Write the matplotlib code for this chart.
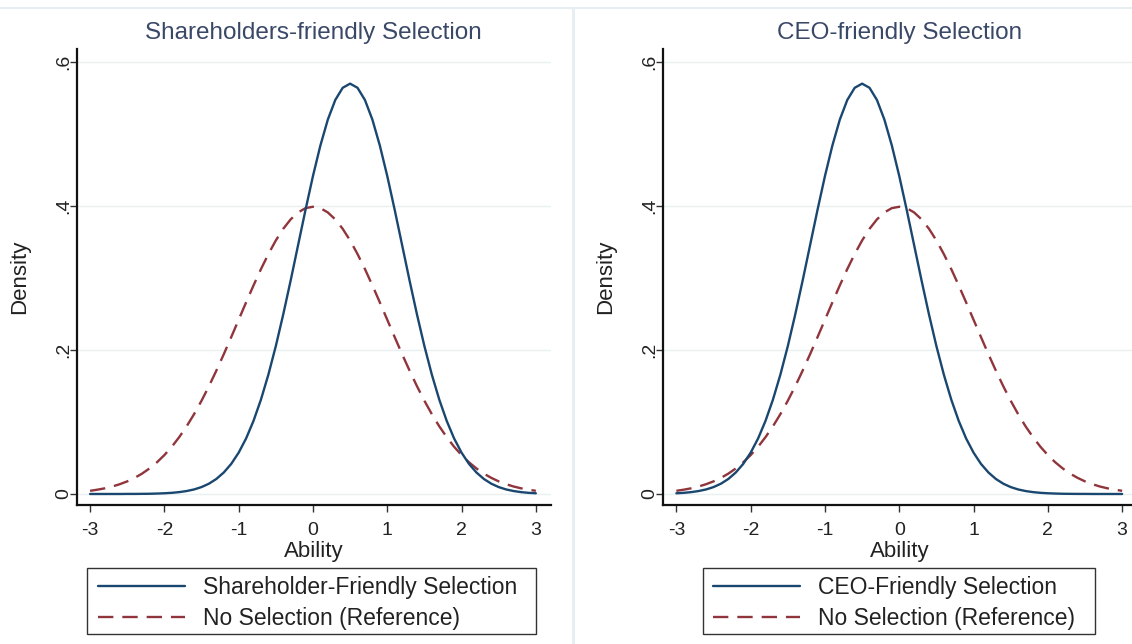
import numpy as np
import matplotlib
matplotlib.use("Agg")
import matplotlib.pyplot as plt
from matplotlib.lines import Line2D
from matplotlib.patches import Rectangle

plt.rcParams['font.family'] = ['Liberation Sans', 'DejaVu Sans']

# ---------------- data ----------------
ability = np.round(np.arange(-3.0, 3.0001, 0.1), 1)

# reference density (no selection)
no_selection = [0.0044, 0.0060, 0.0079, 0.0104, 0.0136, 0.0175, 0.0224, 0.0283, 0.0355, 0.0440,
                0.0540, 0.0656, 0.0790, 0.0940, 0.1109, 0.1295, 0.1497, 0.1714, 0.1942, 0.2179,
                0.2420, 0.2661, 0.2897, 0.3123, 0.3332, 0.3521, 0.3683, 0.3814, 0.3910, 0.3970,
                0.3989,
                0.3970, 0.3910, 0.3814, 0.3683, 0.3521, 0.3332, 0.3123, 0.2897, 0.2661, 0.2420,
                0.2179, 0.1942, 0.1714, 0.1497, 0.1295, 0.1109, 0.0940, 0.0790, 0.0656, 0.0540,
                0.0440, 0.0355, 0.0283, 0.0224, 0.0175, 0.0136, 0.0104, 0.0079, 0.0060, 0.0044]

shareholder_friendly = [0.0000, 0.0000, 0.0000, 0.0000, 0.0000, 0.0001, 0.0001, 0.0002, 0.0003, 0.0006,
                        0.0010, 0.0016, 0.0026, 0.0041, 0.0063, 0.0096, 0.0143, 0.0209, 0.0299, 0.0418,
                        0.0574, 0.0771, 0.1016, 0.1311, 0.1658, 0.2054, 0.2494, 0.2966, 0.3457, 0.3947,
                        0.4416, 0.4840, 0.5199, 0.5471, 0.5641, 0.5699, 0.5641, 0.5471, 0.5199, 0.4840,
                        0.4416, 0.3947, 0.3457, 0.2966, 0.2494, 0.2054, 0.1658, 0.1311, 0.1016, 0.0771,
                        0.0574, 0.0418, 0.0299, 0.0209, 0.0143, 0.0096, 0.0063, 0.0041, 0.0026, 0.0016,
                        0.0010]

ceo_friendly = [0.0010, 0.0016, 0.0026, 0.0041, 0.0063, 0.0096, 0.0143, 0.0209, 0.0299, 0.0418,
                0.0574, 0.0771, 0.1016, 0.1311, 0.1658, 0.2054, 0.2494, 0.2966, 0.3457, 0.3947,
                0.4416, 0.4840, 0.5199, 0.5471, 0.5641, 0.5699, 0.5641, 0.5471, 0.5199, 0.4840,
                0.4416, 0.3947, 0.3457, 0.2966, 0.2494, 0.2054, 0.1658, 0.1311, 0.1016, 0.0771,
                0.0574, 0.0418, 0.0299, 0.0209, 0.0143, 0.0096, 0.0063, 0.0041, 0.0026, 0.0016,
                0.0010, 0.0006, 0.0003, 0.0002, 0.0001, 0.0001, 0.0000, 0.0000, 0.0000, 0.0000,
                0.0000]

x_ticks = [-3, -2, -1, 0, 1, 2, 3]
y_ticks = [0, 0.2, 0.4, 0.6]
y_tick_labels = ["0", ".2", ".4", ".6"]

panel_titles = ["Shareholders-friendly Selection", "CEO-friendly Selection"]
selection_labels = ["Shareholder-Friendly Selection", "CEO-Friendly Selection"]
reference_label = "No Selection (Reference)"

BLUE = "#1a476f"
RED = "#90353b"
GRID = "#e8f0f2"
TXT = "#222222"
TITLE_C = "#3a4868"

W, H = 1132, 644
fig = plt.figure(figsize=(W / 100, H / 100), dpi=100)
fig.patch.set_facecolor("white")

# light frame lines (combined graph borders)
fig.add_artist(Line2D([0, 1], [1 - 7.5 / H, 1 - 7.5 / H], color="#e6eef2", lw=1.5, transform=fig.transFigure))
fig.add_artist(Line2D([573 / W, 573 / W], [0, 1 - 7.5 / H], color="#e6eef2", lw=2.0, transform=fig.transFigure))

axes_left_px = [76.7, 663.0]
ax_w = 474 / W
ax_b = 1 - 505 / H
ax_h = (505 - 49) / H
legend_boxes = [(87, 536), (703, 1095)]
legend_handle_x = [98, 713]
title_y = 33

series_sets = [shareholder_friendly, ceo_friendly]

for i in range(2):
    ax = fig.add_axes([axes_left_px[i] / W, ax_b, ax_w, ax_h])
    ax.set_facecolor("white")
    ax.set_xlim(-3.18, 3.2)
    ax.set_ylim(-0.0153, 0.618)
    for yt in y_ticks:
        ax.axhline(yt, color=GRID, lw=1.0, zorder=0)
    l1, = ax.plot(ability, series_sets[i], color=BLUE, lw=1.7, solid_capstyle="round", zorder=3)
    l2, = ax.plot(ability, no_selection, color=RED, lw=1.7, linestyle=(0, (6.5, 3.8)), zorder=2)

    for s in ["top", "right"]:
        ax.spines[s].set_visible(False)
    for s in ["left", "bottom"]:
        ax.spines[s].set_color("#111111")
        ax.spines[s].set_linewidth(1.6)

    ax.set_xticks(x_ticks)
    ax.set_xticklabels([str(t) for t in x_ticks])
    ax.set_yticks(y_ticks)
    ax.set_yticklabels(y_tick_labels, rotation=90, va="center")
    ax.tick_params(axis="both", direction="out", length=5, width=1.0, color="#333333",
                   labelsize=14, labelcolor=TXT)
    ax.tick_params(axis="x", pad=7)
    ax.tick_params(axis="y", pad=-1.5)
    ax.set_xlabel("Ability", fontsize=16, color=TXT)
    ax.xaxis.set_label_coords(0.5, (505 - 551) / 456)
    ax.xaxis.label.set_va("center")
    ax.set_ylabel("Density", fontsize=16, color=TXT)
    ax.yaxis.set_label_coords(-57 / 474, 0.5)
    ax.yaxis.label.set_va("center")

    # title centred over the plot region
    x_center = (axes_left_px[i] + 0.5 * 474 - 0.8) / W
    fig.text(x_center, 1 - title_y / H, panel_titles[i], fontsize=17.5, color=TITLE_C,
             ha="center", va="center")

    lx0, lx1 = legend_boxes[i]
    fig.add_artist(Rectangle((lx0 / W, 1 - 634 / H), (lx1 - lx0) / W, 66 / H,
                             transform=fig.transFigure, facecolor="white",
                             edgecolor="#333333", lw=1.0, zorder=5))
    leg = fig.legend([l1, l2], [selection_labels[i], reference_label],
                     loc="center left",
                     bbox_to_anchor=(legend_handle_x[i] / W, 1 - 603 / H),
                     fontsize=16.5, frameon=False,
                     handlelength=3.8, handletextpad=0.8, borderpad=0.0,
                     labelspacing=0.33, borderaxespad=0.0, labelcolor=TXT)
    leg.set_zorder(6)

fig.savefig("out.png", dpi=100, facecolor="white")
